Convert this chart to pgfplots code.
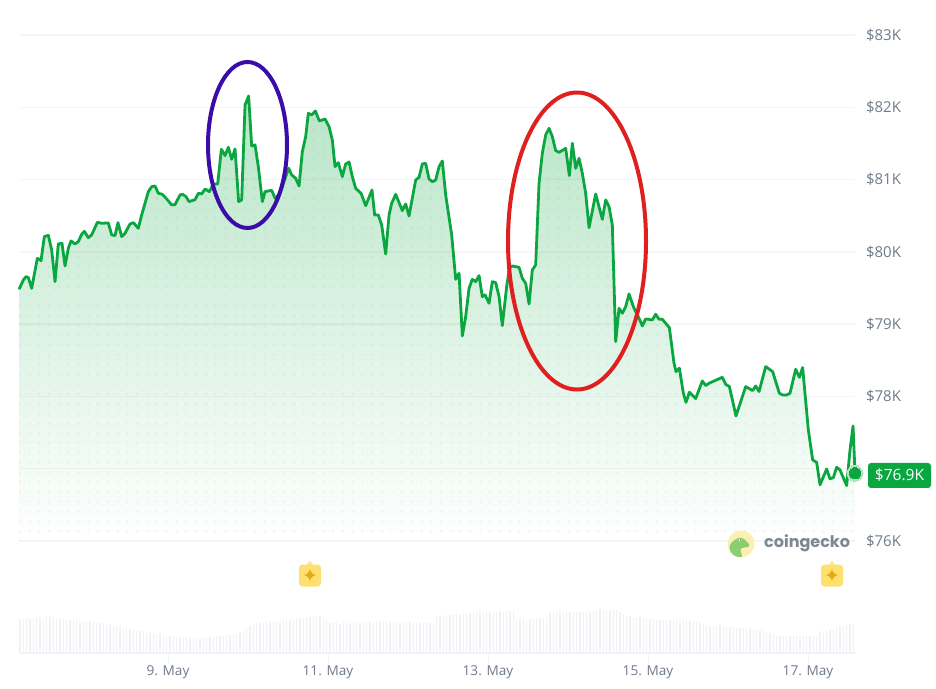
\documentclass[border=0pt]{standalone}
\usepackage{pgfplots}
\usepackage{pgfplotstable}
\usepackage{fontspec}
\setmainfont{Open Sans}
\newfontfamily\logofont{Poppins}
\newfontfamily\symfont{DejaVu Sans}
\pgfplotsset{compat=1.18}
\usetikzlibrary{patterns.meta}
\definecolor{lineg}{HTML}{0AA63F}
\definecolor{labg}{HTML}{6F7A8C}
\definecolor{gridc}{HTML}{F1F3F6}
\definecolor{volc}{HTML}{F0F2F6}
\definecolor{blueell}{RGB}{60,12,168}
\definecolor{redell}{RGB}{224,31,31}
\definecolor{badge}{RGB}{254,224,110}
\definecolor{badgetip}{RGB}{254,232,150}
\definecolor{badgestar}{RGB}{230,168,23}
\definecolor{logobg}{RGB}{250,240,180}
\definecolor{logofg}{RGB}{140,205,110}
\definecolor{logotxt}{RGB}{127,135,145}
\definecolor{halo}{RGB}{182,226,196}
\pgfplotstableread{
d p
7.138 79.482
7.192 79.611
7.225 79.657
7.254 79.644
7.296 79.496
7.367 79.911
7.413 79.879
7.454 80.211
7.504 80.229
7.546 80.026
7.588 79.588
7.629 80.109
7.675 80.118
7.713 79.805
7.754 80.049
7.788 80.151
7.838 80.109
7.879 80.141
7.921 80.243
7.954 80.284
8.004 80.197
8.046 80.234
8.117 80.409
8.171 80.395
8.254 80.400
8.296 80.234
8.338 80.225
8.375 80.404
8.421 80.211
8.463 80.257
8.525 80.386
8.567 80.404
8.629 80.326
8.671 80.510
8.754 80.833
8.796 80.902
8.838 80.911
8.879 80.810
8.929 80.796
8.983 80.732
9.046 80.649
9.088 80.653
9.150 80.787
9.183 80.796
9.225 80.764
9.263 80.695
9.338 80.722
9.379 80.810
9.421 80.801
9.463 80.870
9.517 80.833
9.567 80.939
9.621 80.939
9.667 81.419
9.713 81.331
9.754 81.446
9.796 81.280
9.838 81.423
9.883 80.695
9.921 80.718
9.963 82.032
10.008 82.156
10.046 81.465
10.088 81.479
10.129 81.179
10.179 80.695
10.213 80.833
10.296 80.851
10.338 80.741
10.400 80.810
10.508 81.156
10.546 81.064
10.596 81.018
10.638 80.911
10.679 81.386
10.721 81.594
10.754 81.917
10.796 81.894
10.842 81.949
10.892 81.811
10.963 81.838
11.013 81.732
11.054 81.548
11.088 81.179
11.129 81.234
11.179 81.041
11.221 81.216
11.263 81.243
11.304 81.041
11.346 80.879
11.413 80.810
11.471 80.639
11.550 80.856
11.583 80.510
11.629 80.510
11.671 80.372
11.721 79.971
11.763 80.510
11.796 80.672
11.846 80.796
11.929 80.570
11.971 80.662
12.013 80.496
12.096 80.994
12.138 81.031
12.179 81.216
12.221 81.225
12.263 81.008
12.304 80.971
12.346 80.994
12.388 81.179
12.429 81.257
12.471 80.787
12.546 80.234
12.596 79.620
12.638 79.704
12.679 78.837
12.721 79.104
12.763 79.496
12.804 79.620
12.846 79.588
12.888 79.671
12.929 79.381
12.963 79.404
13.013 79.289
13.054 79.588
13.096 79.574
13.138 79.381
13.179 78.980
13.233 79.519
13.267 79.773
13.304 79.805
13.388 79.786
13.429 79.634
13.471 79.565
13.513 79.279
13.554 79.750
13.596 79.819
13.638 80.948
13.679 81.363
13.721 81.617
13.763 81.709
13.804 81.594
13.846 81.400
13.888 81.377
13.971 81.432
14.017 81.054
14.054 81.502
14.096 81.156
14.138 81.294
14.179 81.087
14.221 80.810
14.263 80.335
14.346 80.801
14.429 80.450
14.471 80.718
14.513 80.625
14.554 80.372
14.596 78.758
14.638 79.219
14.679 79.150
14.721 79.242
14.763 79.418
14.817 79.242
14.846 79.173
14.888 79.081
14.929 78.975
14.971 79.072
15.054 79.058
15.096 79.136
15.138 79.067
15.179 79.067
15.221 79.012
15.267 78.952
15.325 78.459
15.350 78.343
15.392 78.390
15.442 78.044
15.475 77.919
15.517 78.058
15.596 77.970
15.679 78.214
15.721 78.150
15.763 78.182
15.929 78.265
15.971 78.168
16.017 78.136
16.100 77.730
16.221 78.136
16.308 78.081
16.346 78.145
16.388 78.067
16.471 78.413
16.558 78.343
16.642 78.044
16.683 78.021
16.733 78.021
16.775 78.044
16.846 78.376
16.892 78.265
16.933 78.399
17.004 77.537
17.058 77.122
17.108 77.089
17.150 76.776
17.233 76.997
17.275 76.859
17.317 76.877
17.358 77.020
17.400 76.983
17.483 76.767
17.525 77.260
17.563 77.592
17.5875 76.937
}\price
\pgfplotstableread{
v
34
34
35
34
35
36
35
36
37
36
37
34
34
34
33
33
32
33
32
32
31
32
31
30
30
29
29
28
27
27
26
25
25
24
23
22
22
21
21
20
20
19
19
18
17
17
17
16
16
16
16
15
15
15
15
15
16
16
16
17
17
17
18
18
19
19
21
23
25
27
29
30
30
31
31
31
31
32
32
32
33
33
34
34
35
35
36
36
37
37
37
36
33
30
30
30
29
30
29
30
30
31
30
30
31
31
30
31
31
32
31
31
30
31
31
30
30
31
30
31
30
30
30
30
30
37
37
38
37
38
38
39
38
39
39
40
40
40
41
40
41
41
40
41
42
41
42
42
43
34
34
34
33
34
34
34
35
35
35
40
40
40
41
40
41
41
41
42
41
41
42
41
42
42
43
43
43
43
43
43
41
39
37
37
36
36
36
35
35
34
34
34
33
33
33
33
33
33
32
33
32
32
32
32
30
28
28
27
27
27
27
26
26
26
26
25
25
25
25
24
24
23
23
22
21
20
19
17
17
17
17
17
17
17
17
17
17
17
17
17
21
22
22
23
24
25
26
27
28
29
29
30
31
}\volume
\begin{document}
\begin{tikzpicture}[x=1pt,y=1pt]
\path[use as bounding box] (0,0) rectangle (936,688);
% price axis
\begin{axis}[
  at={(19pt,147pt)},anchor=south west,
  scale only axis,width=836pt,height=506pt,
  xmin=7.1375,xmax=17.5875,ymin=76,ymax=83,
  axis line style={draw=none},
  xtick=\empty,
  ytick={76,77,78,79,80,81,82,83},
  yticklabels={\$76K,,\$78K,\$79K,\$80K,\$81K,\$82K,\$83K},
  yticklabel pos=right,
  yticklabel style={anchor=west,text=labg,font=\fontsize{15}{15}\selectfont,xshift=7.5pt},
  major tick length=0pt,
  clip=false,
]
\addplot[draw=none,shade,top color=lineg!29,bottom color=white,forget plot] table[x=d,y=p]{\price} \closedcycle;
\addplot[draw=none,pattern={Dots[distance=9.8pt,radius=1.5pt]},pattern color=lineg,opacity=0.06,forget plot] table[x=d,y=p]{\price} \closedcycle;
\pgfplotsinvokeforeach{76,77,78,79,80,81,82,83}{
  \draw[black,opacity=0.035,line width=1.4pt] (axis cs:7.1375,#1) -- (axis cs:17.5875,#1);
}
\addplot[lineg,line width=2.8pt,line join=round,no markers] table[x=d,y=p]{\price};
\addplot[only marks,mark=*,mark size=8pt,color=halo,mark options={draw=halo,fill=halo,line width=0pt,solid}] coordinates {(17.5875,76.937)};
\addplot[only marks,mark=*,mark size=5.7pt,color=lineg,mark options={draw=lineg,fill=lineg,line width=0pt,solid}] coordinates {(17.5875,76.937)};
\end{axis}
% volume axis
\begin{axis}[
  at={(19pt,35pt)},anchor=south west,
  scale only axis,width=836pt,height=45pt,
  xmin=7.1375,xmax=17.5875,ymin=0,ymax=45,
  axis line style={draw=none},
  ytick=\empty,
  xtick={9,11,13,15,17},
  xticklabels={9. May,11. May,13. May,15. May,17. May},
  xticklabel style={text=labg,font=\fontsize{13.6}{13.6}\selectfont,yshift=1pt},
  tick align=outside,
  major tick length=10pt,
  tick style={volc,line width=1pt},
  xtick pos=bottom,
]
\addplot[ycomb,volc,line width=1.2pt,no markers] table[x expr=7.15+\coordindex/24,y=v]{\volume};
\end{axis}
\draw[gridc,line width=1.2pt] (19,35) -- (855,35);
% annotations
\draw[blueell,line width=4pt] (247.5,543) ellipse [x radius=39.5,y radius=83];
\draw[redell,line width=4pt] (577,447) ellipse [x radius=69,y radius=148.5];
% value label
\node[fill=lineg,rounded corners=3pt,text=white,inner sep=0pt,minimum width=63pt,minimum height=25pt,font=\fontsize{15.5}{15.5}\selectfont] at (899.5,212.5) {\$76.9K};
% event badges
\foreach \bx/\by in {310/112.5,832/112.5}{
  \fill[badgetip] (\bx-4,\by+10) -- (\bx,\by+15) -- (\bx+4,\by+10) -- cycle;
  \fill[rounded corners=3.5pt,badge] (\bx-11,\by-11) rectangle (\bx+11,\by+11);
  \node[text=badgestar,font=\symfont\fontsize{19}{19}\selectfont,inner sep=0pt] at (\bx,\by) {✦};
}
% logo
\fill[logobg] (741,144) circle (13.5);
\fill[logofg] plot[smooth cycle,tension=0.7] coordinates {(740,150.3) (748.3,144.7) (748.3,141.3) (740.7,139) (741.7,131.3) (732.7,133.7) (730,143)};
\fill[white] (740,148) circle (1.5);
\fill[black!70] (740.4,148) circle (0.7);
\node[anchor=west,text=logotxt,font=\logofont\bfseries\fontsize{16}{16}\selectfont,inner sep=0pt] at (764,145) {coingecko};
\end{tikzpicture}
\end{document}
